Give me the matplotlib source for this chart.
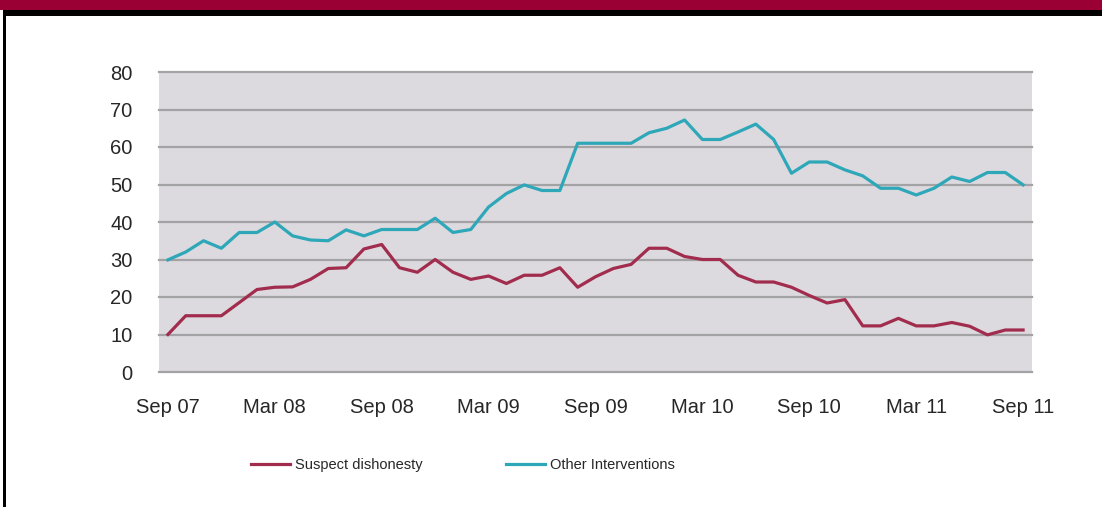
import numpy as np
import matplotlib.pyplot as plt
from matplotlib.patches import Rectangle

plt.rcParams['font.family'] = ['Liberation Sans', 'DejaVu Sans']

# monthly values, Sep 07 .. Sep 11 (49 months)
suspect = [10, 15, 15, 15, 18.5, 22, 22.6, 22.7, 24.7, 27.6, 27.8, 32.8, 34,
           27.8, 26.6, 30, 26.6, 24.7, 25.6, 23.6, 25.8, 25.8, 27.8, 22.6,
           25.4, 27.6, 28.7, 33, 33, 30.8, 30, 30, 25.8, 24, 24, 22.6,
           20.4, 18.4, 19.3, 12.3, 12.3, 14.3, 12.3, 12.3, 13.2, 12.2,
           9.9, 11.2, 11.2]
other = [29.9, 32, 35, 33, 37.2, 37.2, 40, 36.3, 35.2, 35, 37.9, 36.3, 38,
         38, 38, 41, 37.2, 38, 44, 47.6, 49.9, 48.4, 48.4, 61,
         61, 61, 61, 63.8, 65, 67.2, 62, 62, 64, 66.1, 62, 53,
         56, 56, 53.9, 52.3, 49, 49, 47.2, 49, 52, 50.8, 53.2, 53.2, 49.9]
tick_pos = [0, 6, 12, 18, 24, 30, 36, 42, 48]
tick_labels = ['Sep 07', 'Mar 08', 'Sep 08', 'Mar 09', 'Sep 09',
               'Mar 10', 'Sep 10', 'Mar 11', 'Sep 11']
yticks = [0, 10, 20, 30, 40, 50, 60, 70, 80]

red = '#A12C4E'
cyan = '#2EA7B9'
txt = '#272727'

fig = plt.figure(figsize=(11.02, 5.07), dpi=100)
fig.patch.set_facecolor('white')

# banner + frame bits
fig.patches.append(Rectangle((0, 1 - 10/507), 1, 10/507, transform=fig.transFigure,
                             facecolor='#9B0034', edgecolor='none'))
fig.patches.append(Rectangle((3/1102, 1 - 16/507), 1, 6/507, transform=fig.transFigure,
                             facecolor='black', edgecolor='none'))
fig.patches.append(Rectangle((3/1102, 0), 2.5/1102, 1 - 10/507, transform=fig.transFigure,
                             facecolor='black', edgecolor='none'))

ax = fig.add_axes([159/1102, 1 - 372/507, 873/1102, 300/507])
ax.set_facecolor('#DCDADE')
x = np.arange(len(suspect))

for yv in yticks:
    ax.axhline(yv, color='#A3A3A6', lw=1.6, zorder=1, clip_on=False)

ax.plot(x, suspect, color=red, lw=2.3, label='Suspect dishonesty', zorder=3)
ax.plot(x, other, color=cyan, lw=2.3, label='Other Interventions', zorder=3)

ax.set_xlim(-0.5, 48.5)
ax.set_ylim(0, 80)
ax.set_xticks(tick_pos)
ax.set_xticklabels(tick_labels)
ax.set_yticks(yticks)
ax.tick_params(axis='both', length=0, labelsize=14.5, colors=txt, pad=19)
ax.tick_params(axis='x', pad=19)
for s in ax.spines.values():
    s.set_visible(False)

fig.legend(loc='center', bbox_to_anchor=(0.42, 1 - 465/507), ncol=2, frameon=False,
           fontsize=10.5, handlelength=2.7, handletextpad=0.35, columnspacing=5.7,
           labelcolor=txt)

fig.savefig('out.png', dpi=100)
